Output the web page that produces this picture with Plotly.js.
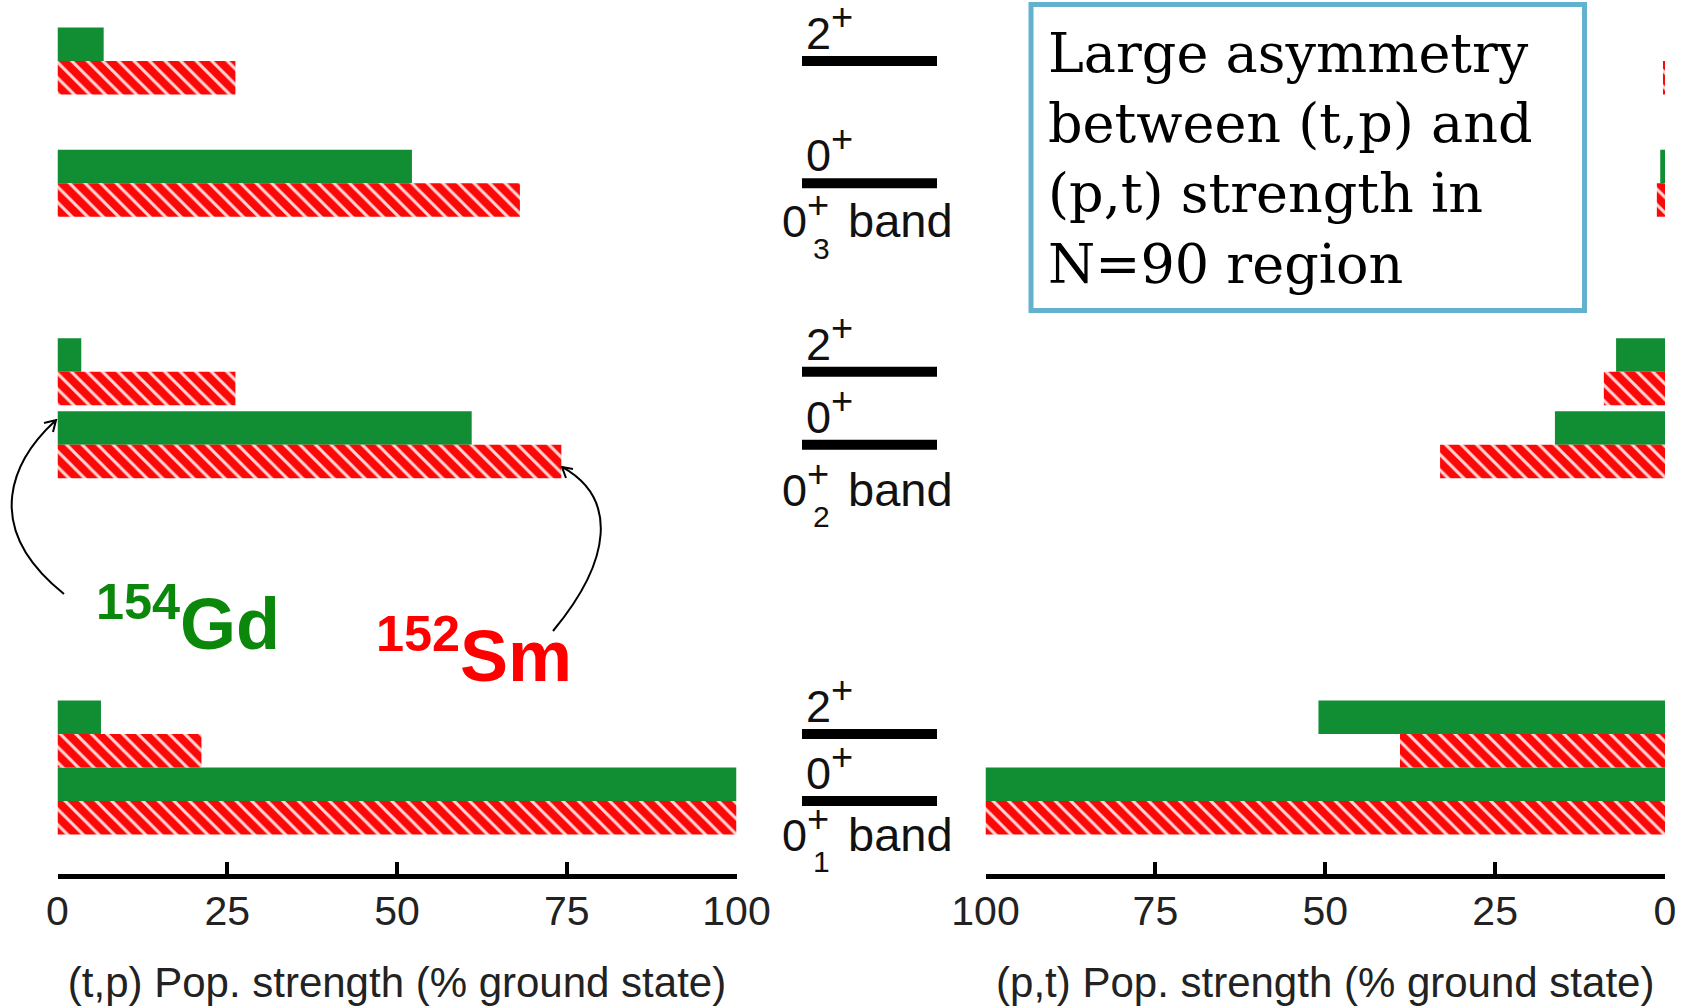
<!DOCTYPE html>
<html>
<head>
<meta charset="utf-8">
<script src="https://cdn.plot.ly/plotly-3.0.1.min.js"></script>
<style>html,body{margin:0;padding:0;background:#fff;}#chart{width:1690px;height:1008px;}</style>
</head>
<body>
<div id="chart"></div>
<script>
// ---------------- data ----------------
// levels ordered bottom -> top: band index and spin of each level
const levelBand = ['1', '1', '2', '2', '3', '3'];
const levelSpin = ['0', '2', '0', '2', '0', '2'];
// (t,p) population strength, % of ground state
const gdTP = [100, 6.4, 61.0, 3.5, 52.2, 6.8];   // 154Gd
const smTP = [100, 21.2, 74.2, 26.2, 68.1, 26.2]; // 152Sm
// (p,t) population strength, % of ground state
const gdPT = [100, 51.0, 16.2, 7.2, 0.7, 0];
const smPT = [100, 39.0, 33.1, 9.0, 1.2, 0.3];
const xTicks = [0, 25, 50, 75, 100];
const tpTitle = '(t,p) Pop. strength (% ground state)';
const ptTitle = '(p,t) Pop. strength (% ground state)';
const boxText = 'Large asymmetry<br>between (t,p) and<br>(p,t) strength in<br>N=90 region';

// ---------------- layout helpers ----------------
const W = 1690, H = 1008;
const levelRow = [0, 2, 10.63, 12.81, 18.44, 22.09]; // vertical slot of each level (row units)
const px = x => x / W;
const py = y => 1 - y / H;
const P = (x, y) => px(x).toFixed(5) + ',' + py(y).toFixed(5);

const GREEN = '#118d33';
const RED = '#fb0808';
const SANS = 'Liberation Sans, Arial, sans-serif';
const PLUS = '<sup><span style="font-size:38px">+</span></sup>';

const yGreen = levelRow.map(v => v + 0.5);
const yRed = levelRow.map(v => v - 0.5);

function barTrace(x, y, xa, color, hatched) {
  const t = {
    type: 'bar', orientation: 'h', x: x, y: y, width: 1,
    xaxis: xa, yaxis: 'y', hoverinfo: 'skip', showlegend: false,
    textposition: 'none',
    marker: {color: color, line: {width: 0}}
  };
  if (hatched) {
    t.marker.pattern = {shape: '\\', fgcolor: '#ffd4d4', bgcolor: color, size: 11, solidity: 0.27};
  }
  return t;
}

const traces = [
  barTrace(gdTP, yGreen, 'x', GREEN, false),
  barTrace(smTP, yRed, 'x', RED, true),
  barTrace(gdPT, yGreen, 'x2', GREEN, false),
  barTrace(smPT, yRed, 'x2', RED, true)
];

function xAxis(domain, range, title) {
  return {
    domain: domain, range: range, anchor: 'free', position: 0.131,
    showline: true, linewidth: 5, linecolor: '#000',
    ticks: 'inside', ticklen: 12, tickwidth: 4, tickcolor: '#000',
    tickmode: 'array', tickvals: xTicks, ticktext: xTicks.map(String),
    ticklabelstandoff: -3,
    tickfont: {family: SANS, size: 41, color: '#222'},
    showgrid: false, zeroline: false, fixedrange: true,
    title: {text: title, font: {family: SANS, size: 42, color: '#222'}, standoff: 34}
  };
}

const shapes = [];
const annotations = [];

// level lines and spin labels
levelRow.forEach((r, i) => {
  shapes.push({type: 'line', xref: 'paper', yref: 'y', x0: px(802), x1: px(937), y0: r, y1: r,
               line: {color: '#000', width: 10}});
  annotations.push({xref: 'paper', yref: 'y', x: px(804), y: r, xanchor: 'left', yanchor: 'bottom',
                    yshift: 0, showarrow: false, text: levelSpin[i] + PLUS,
                    font: {family: SANS, size: 45, color: '#111'}});
});

// band labels (below each band's 0+ level)
const bandShift = [-62, -73, -66];
[0, 2, 4].forEach((li, k) => {
  annotations.push({xref: 'paper', yref: 'y', x: px(780), y: levelRow[li], xanchor: 'left', yanchor: 'bottom',
                    yshift: bandShift[k], showarrow: false, text: '0' + PLUS,
                    font: {family: SANS, size: 45, color: '#111'}});
  annotations.push({xref: 'paper', yref: 'y', x: px(846), y: levelRow[li], xanchor: 'left', yanchor: 'bottom',
                    yshift: bandShift[k], showarrow: false, text: 'band',
                    font: {family: SANS, size: 47, color: '#111'}});
  annotations.push({xref: 'paper', yref: 'y', x: px(821), y: levelRow[li], xanchor: 'center', yanchor: 'middle',
                    yshift: bandShift[k] + 1, showarrow: false, text: levelBand[li],
                    font: {family: SANS, size: 30, color: '#111'}});
});

// nucleus labels
annotations.push({xref: 'paper', yref: 'paper', x: px(94), y: py(666), xanchor: 'left', yanchor: 'bottom',
                  showarrow: false, text: '<sup>154</sup>Gd',
                  font: {family: SANS, size: 72, color: '#0b870b', weight: 'bold'}});
annotations.push({xref: 'paper', yref: 'paper', x: px(374), y: py(698), xanchor: 'left', yanchor: 'bottom',
                  showarrow: false, text: '<sup>152</sup>Sm',
                  font: {family: SANS, size: 72, color: '#ff0000', weight: 'bold'}});

// curved arrows
shapes.push({type: 'path', xref: 'paper', yref: 'paper',
             path: 'M ' + P(64, 594) + ' C ' + P(-22, 525) + ' ' + P(15, 458) + ' ' + P(55, 421),
             line: {color: '#000', width: 2}});
shapes.push({type: 'path', xref: 'paper', yref: 'paper',
             path: 'M ' + P(44, 423) + ' L ' + P(56, 420) + ' L ' + P(53, 432),
             line: {color: '#000', width: 2}});
shapes.push({type: 'path', xref: 'paper', yref: 'paper',
             path: 'M ' + P(553, 631) + ' C ' + P(612, 560) + ' ' + P(618, 498) + ' ' + P(562, 467),
             line: {color: '#000', width: 2}});
shapes.push({type: 'path', xref: 'paper', yref: 'paper',
             path: 'M ' + P(573, 469) + ' L ' + P(562, 467) + ' L ' + P(566, 478),
             line: {color: '#000', width: 2}});

// text box
shapes.push({type: 'rect', xref: 'paper', yref: 'paper', x0: px(1031), x1: px(1584.5), y0: py(4.5), y1: py(310.5),
             line: {color: '#62b2cd', width: 5}, fillcolor: 'rgba(0,0,0,0)'});
annotations.push({xref: 'paper', yref: 'paper', x: px(1046), y: py(20), xanchor: 'left', yanchor: 'top',
                  align: 'left', showarrow: false, text: boxText,
                  font: {family: 'DejaVu Serif, serif', size: 54, color: '#000'}});

const layout = {
  width: W, height: H, autosize: false,
  margin: {l: 0, r: 0, t: 0, b: 0, pad: 0},
  paper_bgcolor: '#fff', plot_bgcolor: 'rgba(0,0,0,0)',
  barmode: 'overlay', showlegend: false,
  xaxis: xAxis([px(57.5), px(736.5)], [0, 100], tpTitle),
  xaxis2: xAxis([px(985.5), px(1665)], [100, 0], ptTitle),
  yaxis: {domain: [0, 1], range: [-6.18, 23.91], visible: false, fixedrange: true},
  shapes: shapes, annotations: annotations
};

Plotly.newPlot('chart', traces, layout, {displayModeBar: false, staticPlot: true});
</script>
</body>
</html>
